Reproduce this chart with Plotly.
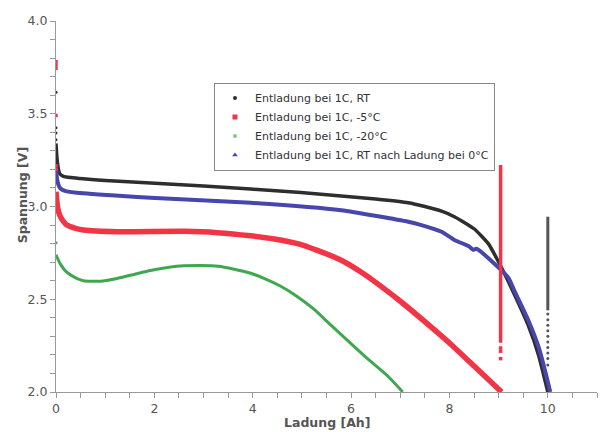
import plotly.graph_objects as go

# ---- data ----
rt_x = [0, 0.02, 0.05, 0.08, 0.15, 0.3, 0.55, 1.0, 1.92, 3.0, 3.96, 4.98, 5.8, 6.5, 7.16, 7.5,
        7.84, 8.1, 8.5, 8.79, 9.02, 9.33, 9.6, 9.81, 10.0]
rt_v = [3.34, 3.26, 3.20, 3.175, 3.163, 3.156, 3.149, 3.14, 3.127, 3.11, 3.094, 3.075, 3.057, 3.04,
        3.02, 3.0, 2.975, 2.945, 2.88, 2.80, 2.69, 2.52, 2.36, 2.20, 2.0]
rt_spike_v = [3.616, 3.425, 3.396, 3.36]
rt_rec_line_v = [2.44, 2.945]
rt_rec_dots_v = [2.42, 2.39, 2.36, 2.33, 2.30, 2.27, 2.24, 2.21, 2.18, 2.146]
rt_rec_x = 10.0

m5_x = [0, 0.03, 0.08, 0.15, 0.22, 0.4, 0.56, 1.24, 2.6, 3.28, 3.96, 4.44, 4.91, 5.3, 5.8,
        6.27, 6.48, 6.95, 7.63, 8.04, 8.5, 9.06]
m5_v = [3.08, 3.0, 2.95, 2.92, 2.90, 2.882, 2.873, 2.864, 2.866, 2.859, 2.842, 2.825, 2.80, 2.765,
        2.71, 2.635, 2.595, 2.50, 2.35, 2.255, 2.14, 2.0]
m5_spike_v = [3.78, 3.763, 3.745, 3.49, 3.22, 3.20]
m5_rec_line_v = [2.266, 3.224]
m5_rec_dots_v = [2.237, 2.22, 2.18]
m5_rec_x = 9.04

m20_x = [0, 0.05, 0.1, 0.2, 0.4, 0.56, 0.9, 1.24, 1.6, 1.92, 2.3, 2.6, 2.94, 3.3, 3.62, 3.96,
         4.23, 4.57, 4.91, 5.25, 5.59, 6.27, 6.75, 7.05]
m20_v = [2.74, 2.71, 2.685, 2.65, 2.615, 2.60, 2.597, 2.612, 2.635, 2.655, 2.672, 2.68, 2.682,
         2.678, 2.662, 2.64, 2.613, 2.57, 2.514, 2.445, 2.36, 2.195, 2.085, 2.0]
m20_spike_v = [2.805]

rt0_x = [0, 0.02, 0.06, 0.1, 0.2, 0.55, 1.92, 3.96, 5.8, 7.16, 7.43, 7.84, 8.1, 8.4, 8.48,
         8.55, 9.02, 9.2, 9.33, 9.6, 9.81, 9.94, 10.05]
rt0_v = [3.22, 3.15, 3.11, 3.095, 3.083, 3.071, 3.047, 3.02, 2.98, 2.918, 2.90, 2.864, 2.82,
         2.785, 2.767, 2.772, 2.665, 2.615, 2.54, 2.388, 2.244, 2.119, 2.0]

names = ["Entladung bei 1C, RT", "Entladung bei 1C, -5°C", "Entladung bei 1C, -20°C",
         "Entladung bei 1C, RT nach Ladung bei 0°C"]
x_title = "Ladung [Ah]"
y_title = "Spannung [V]"

C_BLACK = "#2e2e2e"
C_RED = "#f23446"
C_GREEN = "#3fa84f"
C_BLUE = "#4646ad"

fig = go.Figure()

def line(x, y, color, width):
    fig.add_trace(go.Scatter(x=x, y=y, mode="lines",
                             line=dict(color=color, width=width, shape="spline", smoothing=0.5),
                             showlegend=False, hoverinfo="skip"))

def dots(x, y, color, size, symbol="circle"):
    fig.add_trace(go.Scatter(x=x, y=y, mode="markers", marker=dict(color=color, size=size, symbol=symbol),
                             showlegend=False, hoverinfo="skip"))

# curves
line(m20_x, m20_v, C_GREEN, 3)
line(m5_x, m5_v, C_RED, 5.5)
line(rt_x, rt_v, C_BLACK, 3.5)
line(rt0_x, rt0_v, C_BLUE, 4)

# start spikes
dots([0] * len(rt_spike_v), rt_spike_v, C_BLACK, 3)
dots([0] * len(m5_spike_v), m5_spike_v, C_RED, 3.5, "square")
dots([0] * len(m20_spike_v), m20_spike_v, C_GREEN, 3)

# recovery (relaxation) after end of discharge
fig.add_trace(go.Scatter(x=[m5_rec_x] * 2, y=m5_rec_line_v, mode="lines", line=dict(color=C_RED, width=3.5),
                         showlegend=False, hoverinfo="skip"))
dots([m5_rec_x] * len(m5_rec_dots_v), m5_rec_dots_v, C_RED, 3.5, "square")
fig.add_trace(go.Scatter(x=[rt_rec_x] * 2, y=rt_rec_line_v, mode="lines", line=dict(color="#555555", width=3),
                         showlegend=False, hoverinfo="skip"))
dots([rt_rec_x] * len(rt_rec_dots_v), rt_rec_dots_v, "#555555", 3)

# legend entries
leg_markers = [("circle", C_BLACK, 4), ("square", C_RED, 5), ("circle", "#7ccc88", 4), ("triangle-up", C_BLUE, 5)]
for nm, (sym, col, sz) in zip(names, leg_markers):
    fig.add_trace(go.Scatter(x=[None], y=[None], mode="markers", name=nm,
                             marker=dict(symbol=sym, color=col, size=sz)))

FONT = "DejaVu Sans, Verdana, sans-serif"
axis_font = dict(family=FONT, size=12.5, color="#555555")

fig.update_layout(
    width=601, height=432,
    margin=dict(l=56, r=4, t=21, b=40),
    paper_bgcolor="white", plot_bgcolor="white",
    font=dict(family=FONT, color="#444444"),
    legend=dict(x=0.292, y=0.834, xanchor="left", yanchor="top",
                bordercolor="#888888", borderwidth=1, bgcolor="white",
                font=dict(family=FONT, size=11, color="#333333"),
                itemwidth=30, tracegroupgap=0),
    xaxis=dict(range=[0, 11], automargin=False, showgrid=False, zeroline=False, showline=True,
               linecolor="#999999", linewidth=1,
               ticks="outside", ticklen=5, tickcolor="#999999", dtick=2, tick0=0, tickfont=axis_font,
               minor=dict(dtick=0.5, ticks="outside", ticklen=5, tickcolor="#999999")),
    yaxis=dict(range=[2.0, 4.0], automargin=False, showgrid=False, zeroline=False, showline=True,
               linecolor="#999999", linewidth=1,
               ticks="outside", ticklen=5, tickcolor="#999999", dtick=0.5, tick0=2.0, tickformat=".1f",
               tickfont=axis_font,
               minor=dict(dtick=0.1, ticks="outside", ticklen=5, tickcolor="#999999")),
    annotations=[
        dict(text="<b>" + x_title + "</b>", xref="paper", yref="paper", x=0.50, y=-0.081,
             xanchor="center", yanchor="middle", showarrow=False,
             font=dict(family=FONT, size=12.5, color="#555555")),
        dict(text="<b>" + y_title + "</b>", xref="paper", yref="paper", x=-0.063, y=0.53,
             xanchor="center", yanchor="middle", showarrow=False, textangle=-90,
             font=dict(family=FONT, size=12.5, color="#555555")),
    ],
)

fig.write_html("out.html", config={"displayModeBar": False},
               post_script="document.body.style.margin='0';")
